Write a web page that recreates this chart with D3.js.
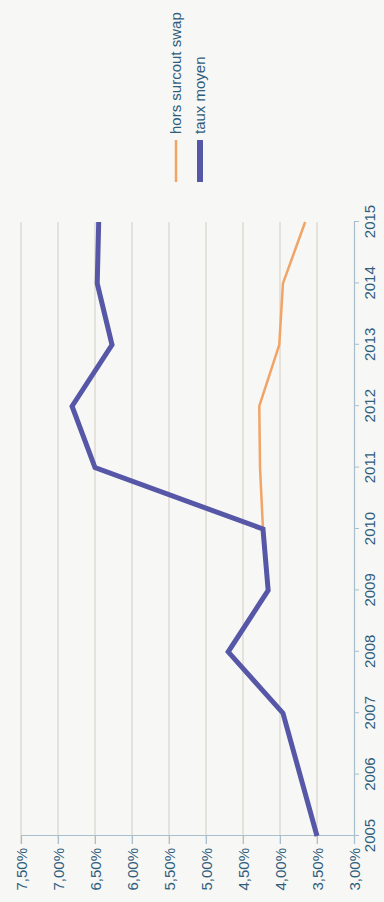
<!DOCTYPE html>
<html>
<head>
<meta charset="utf-8">
<script src="https://cdn.jsdelivr.net/npm/d3@7"></script>
<style>
  html, body { margin: 0; padding: 0; background: #f7f7f6; }
  svg { display: block; }
  text { font-family: "Liberation Sans", Arial, sans-serif; fill: #2f5d7c; }
</style>
</head>
<body>
<svg id="chart" width="384" height="902"></svg>
<script>
// Years on the category axis
const years = [2005, 2006, 2007, 2008, 2009, 2010, 2011, 2012, 2013, 2014, 2015];
// Average rate (taux moyen), in percent
const tauxMoyen = [3.50, 3.73, 3.96, 4.70, 4.16, 4.23, 6.50, 6.81, 6.27, 6.47, 6.45];
// Rate excluding the swap over-cost, available from 2010
const horsSurcoutSwap = [null, null, null, null, null, 4.23, 4.27, 4.28, 4.01, 3.96, 3.66];
// Value axis ticks, in percent
const valueTicks = [3.0, 3.5, 4.0, 4.5, 5.0, 5.5, 6.0, 6.5, 7.0, 7.5];
const seriesNames = ["hors surcout swap", "taux moyen"];

const W = 902, H = 384;
const svg = d3.select("#chart");
// The chart is laid out horizontally, then turned a quarter turn to read bottom-to-top
const g = svg.append("g").attr("transform", `translate(0,${W}) rotate(-90)`);

const x = d3.scaleLinear().domain([2005, 2015]).range([66, 680]);
const y = d3.scaleLinear().domain([3, 7.5]).range([354, 21]);

const fr = d3.formatLocale({ decimal: ",", thousands: " ", grouping: [3], currency: ["", " €"] });
const pct = fr.format(".2f");

// Horizontal gridlines
g.append("g").selectAll("line")
  .data(valueTicks.filter(v => v > 3))
  .join("line")
  .attr("x1", x(2005) - 8).attr("x2", x(2015))
  .attr("y1", d => y(d)).attr("y2", d => y(d))
  .attr("stroke", "#d9d2ca").attr("stroke-width", 1.2);

// Value axis
const yAxis = d3.axisLeft(y).tickValues(valueTicks).tickSize(8).tickPadding(4)
  .tickFormat(d => pct(d) + "%");
const ya = g.append("g").attr("transform", `translate(${x(2005)},0)`).call(yAxis);
ya.select(".domain").attr("stroke", "#a9bfcb").attr("stroke-width", 1.2);
ya.selectAll(".tick line").attr("stroke", "#a9bfcb");
ya.selectAll(".tick text").attr("font-size", 15).attr("dy", "0.36em")
  .attr("font-family", "Liberation Sans, Arial, sans-serif").attr("fill", "#2f5d7c");

// Category axis
const xAxis = d3.axisBottom(x).tickValues(years).tickSize(5).tickPadding(14)
  .tickFormat(d3.format("d"));
const xa = g.append("g").attr("transform", `translate(0,${y(3)})`).call(xAxis);
xa.select(".domain").attr("stroke", "#a9bfcb").attr("stroke-width", 1.2);
xa.selectAll(".tick line").attr("stroke", "#a9bfcb");
xa.selectAll(".tick text").attr("font-size", 15).attr("dy", "0.1em")
  .attr("font-family", "Liberation Sans, Arial, sans-serif").attr("fill", "#2f5d7c");

// Lines
const line = d3.line()
  .defined(d => d[1] != null)
  .x(d => x(d[0])).y(d => y(d[1]));

g.append("path")
  .datum(years.map((yr, i) => [yr, horsSurcoutSwap[i]]))
  .attr("d", line)
  .attr("fill", "none").attr("stroke", "#f2a466").attr("stroke-width", 2.5)
  .attr("stroke-linejoin", "round");

g.append("path")
  .datum(years.map((yr, i) => [yr, tauxMoyen[i]]))
  .attr("d", line)
  .attr("fill", "none").attr("stroke", "#5657a6").attr("stroke-width", 5)
  .attr("stroke-linejoin", "miter");

// Legend
const legend = [
  { name: seriesNames[0], color: "#f2a466", width: 2.5, v: 176 },
  { name: seriesNames[1], color: "#5657a6", width: 6, v: 200 }
];
const lg = g.append("g").selectAll("g").data(legend).join("g");
lg.append("line")
  .attr("x1", 720).attr("x2", 762)
  .attr("y1", d => d.v).attr("y2", d => d.v)
  .attr("stroke", d => d.color).attr("stroke-width", d => d.width);
lg.append("text")
  .attr("x", 768).attr("y", d => d.v + 5)
  .attr("font-size", 15)
  .text(d => d.name);
</script>
</body>
</html>
